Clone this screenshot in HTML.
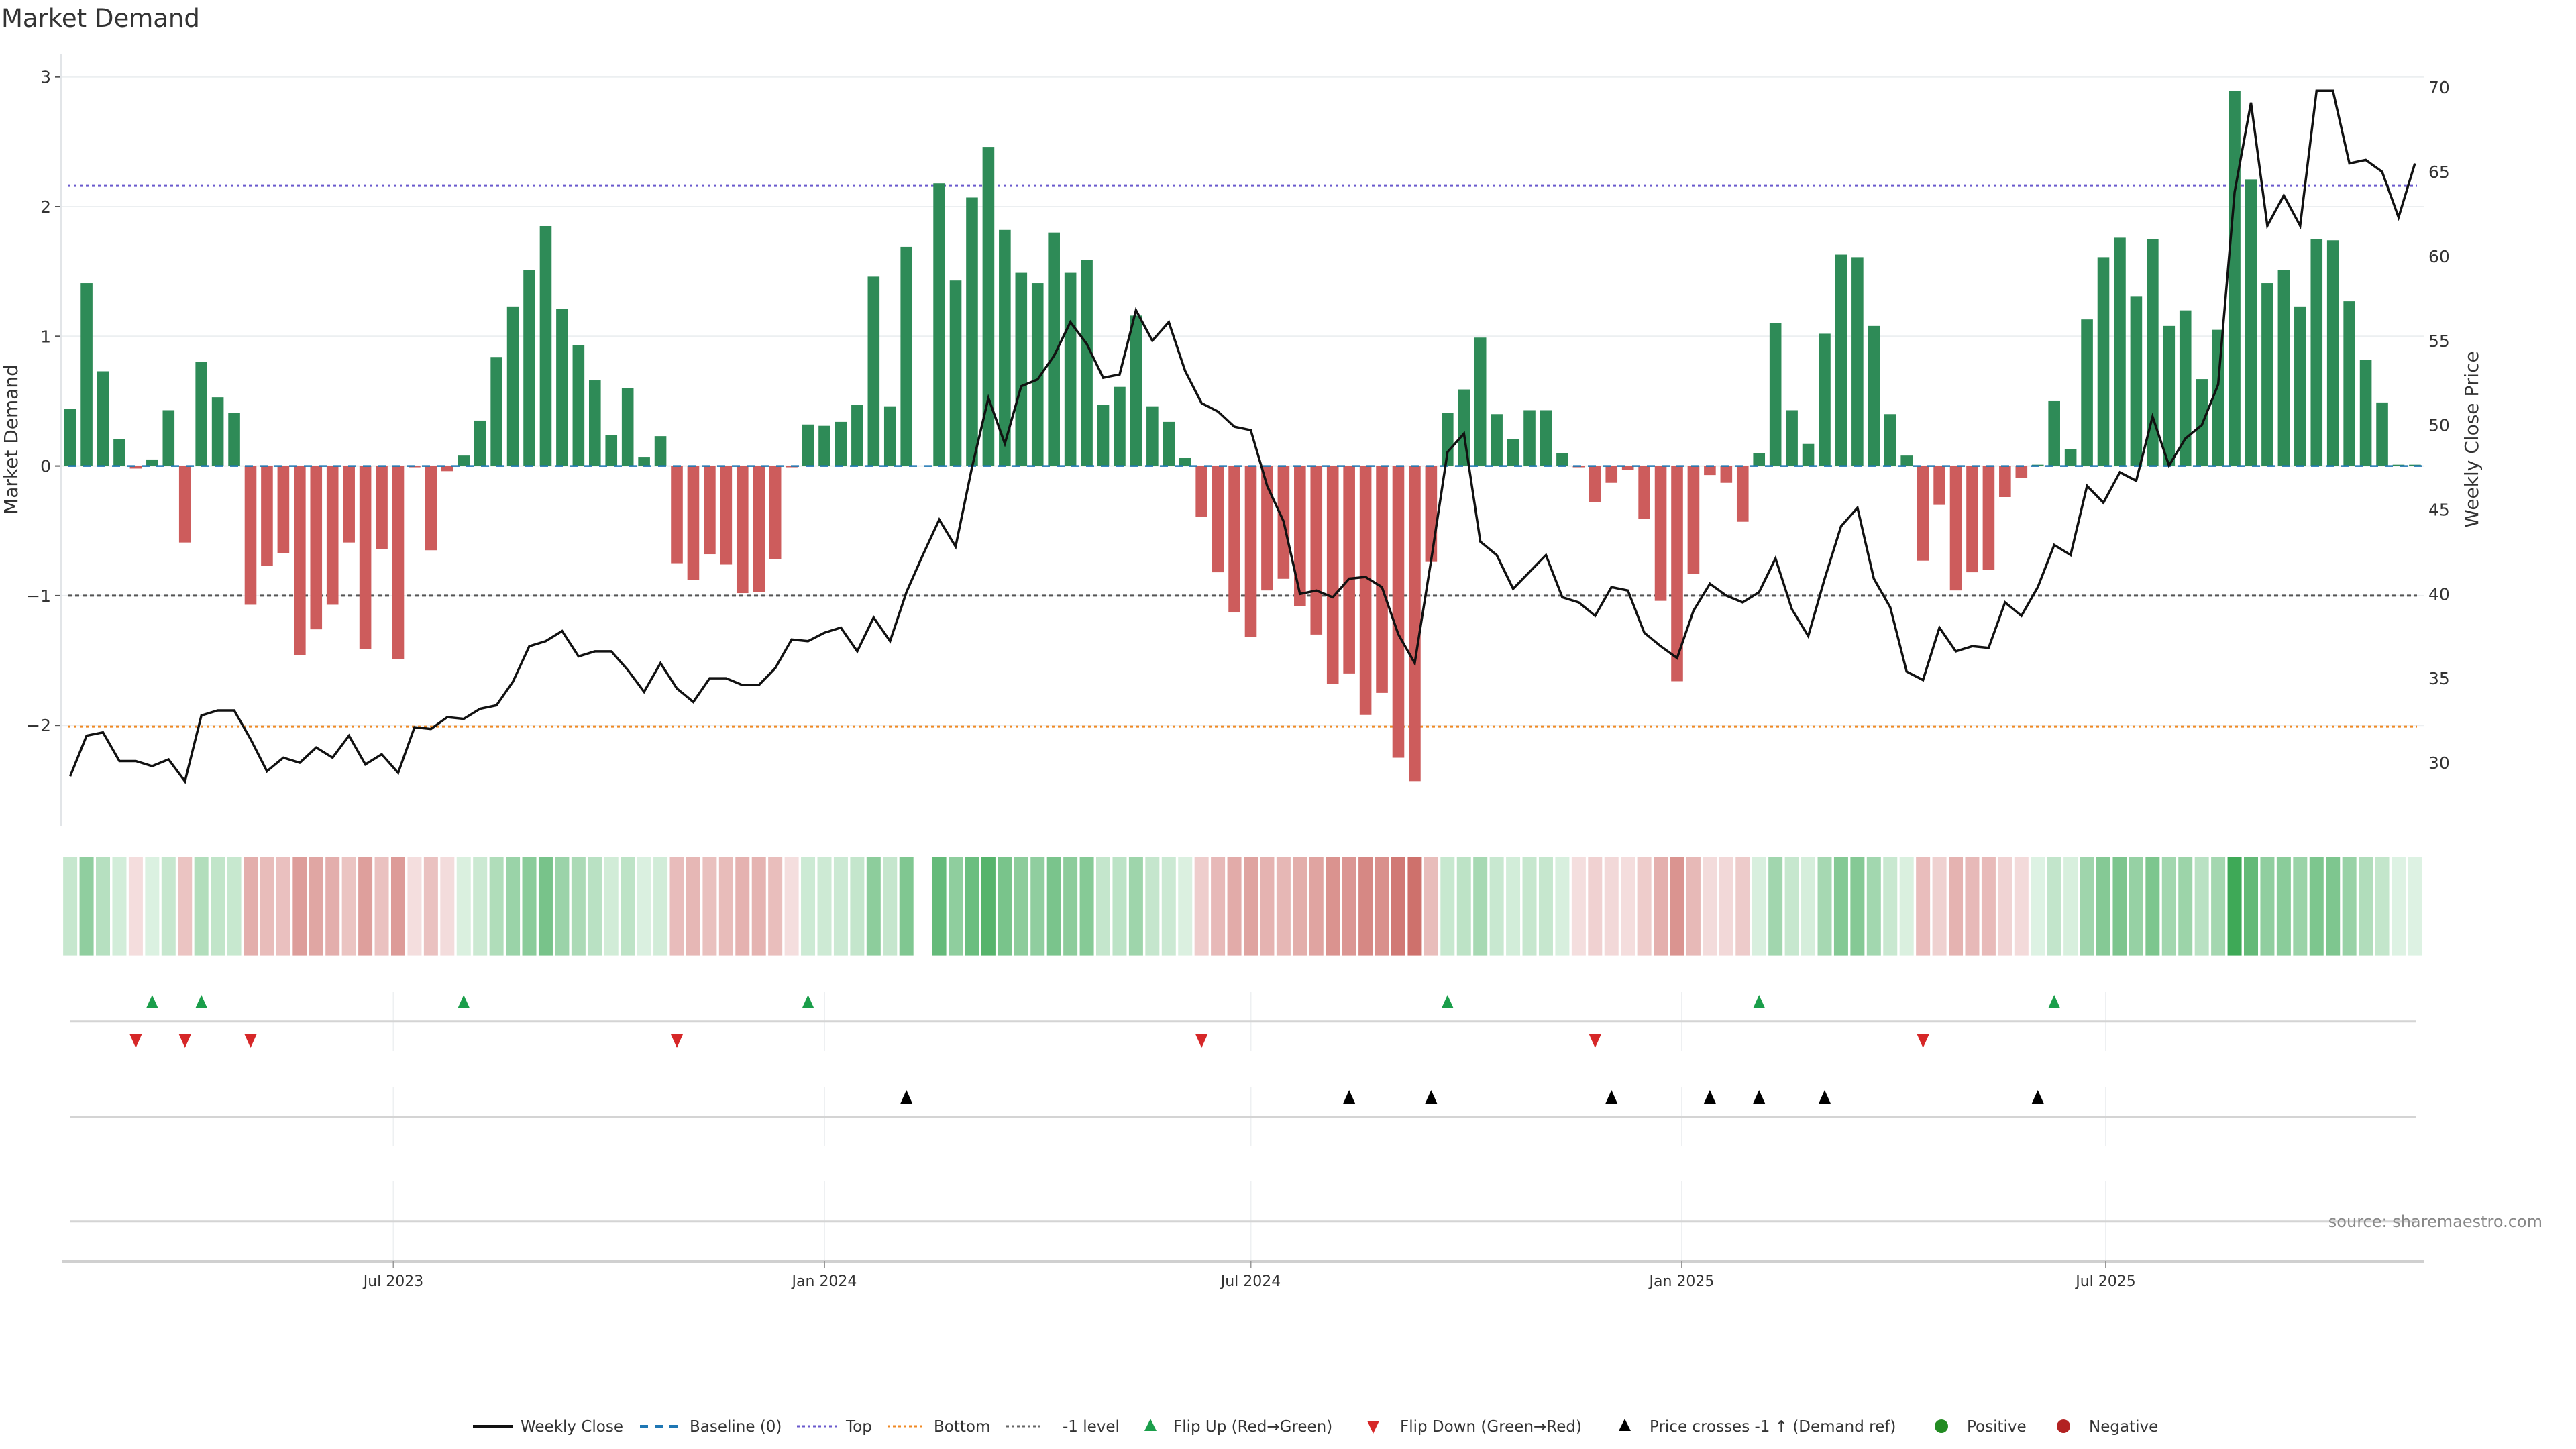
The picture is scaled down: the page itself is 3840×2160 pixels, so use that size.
<!DOCTYPE html>
<html><head><meta charset="utf-8"><style>
html,body{margin:0;padding:0;background:#fff;}
svg{display:block;font-family:"DejaVu Sans","Liberation Sans",sans-serif;}
</style></head><body>
<svg id="chart" width="3840" height="2160" viewBox="0 0 3840 2160" xmlns="http://www.w3.org/2000/svg">
<text x="2" y="40" font-size="37" fill="#333">Market Demand</text>
<g id="main"></g>
<g id="strip"></g>
<g id="events"></g>
<g id="xaxis"></g>
<text x="3790" y="1829" font-size="24" fill="#888" text-anchor="end">source: sharemaestro.com</text>
<g id="legend"></g>
</svg>
<script>
const demand = [0.44,1.41,0.73,0.21,-0.02,0.05,0.43,-0.59,0.80,0.53,0.41,-1.07,-0.77,-0.67,-1.46,-1.26,-1.07,-0.59,-1.41,-0.64,
-1.49,-0.01,-0.65,-0.04,0.08,0.35,0.84,1.23,1.51,1.85,1.21,0.93,0.66,0.24,0.60,0.07,0.23,-0.75,-0.88,-0.68,
-0.76,-0.98,-0.97,-0.72,-0.01,0.32,0.31,0.34,0.47,1.46,0.46,1.69,null,2.18,1.43,2.07,2.46,1.82,1.49,1.41,
1.80,1.49,1.59,0.47,0.61,1.16,0.46,0.34,0.06,-0.39,-0.82,-1.13,-1.32,-0.96,-0.87,-1.08,-1.30,-1.68,-1.60,-1.92,
-1.75,-2.25,-2.43,-0.74,0.41,0.59,0.99,0.40,0.21,0.43,0.43,0.10,-0.01,-0.28,-0.13,-0.03,-0.41,-1.04,-1.66,-0.83,
-0.07,-0.13,-0.43,0.10,1.10,0.43,0.17,1.02,1.63,1.61,1.08,0.40,0.08,-0.73,-0.30,-0.96,-0.82,-0.80,-0.24,-0.09,
0.01,0.50,0.13,1.13,1.61,1.76,1.31,1.75,1.08,1.20,0.67,1.05,2.89,2.21,1.41,1.51,1.23,1.75,1.74,1.27,
0.82,0.49,0.01,0.01];
const closes = [29.2,31.6,31.8,30.1,30.1,29.8,30.2,28.9,32.8,33.1,33.1,31.4,29.5,30.3,30.0,30.9,30.3,31.6,29.9,30.5,
29.4,32.1,32.0,32.7,32.6,33.2,33.4,34.8,36.9,37.2,37.8,36.3,36.6,36.6,35.5,34.2,35.9,34.4,33.6,35.0,
35.0,34.6,34.6,35.6,37.3,37.2,37.7,38.0,36.6,38.6,37.2,40.1,42.3,44.4,42.8,47.5,51.6,48.9,52.3,52.7,
54.1,56.1,54.8,52.8,53.0,56.8,55.0,56.1,53.2,51.3,50.8,49.9,49.7,46.4,44.3,40.0,40.2,39.8,40.9,41.0,
40.4,37.6,35.9,42.0,48.4,49.5,43.1,42.3,40.3,41.3,42.3,39.8,39.5,38.7,40.4,40.2,37.7,36.9,36.2,39.0,
40.6,39.9,39.5,40.1,42.1,39.1,37.5,40.9,44.0,45.1,40.9,39.2,35.4,34.9,38.0,36.6,36.9,36.8,39.5,38.7,
40.4,42.9,42.3,46.4,45.4,47.2,46.7,50.5,47.6,49.2,50.0,52.4,63.8,69.1,61.8,63.6,61.8,69.8,69.8,65.5,
65.7,65.0,62.3,65.5];
const flipUpIdx = [5,8,24,45,84,103,121];
const flipDownIdx = [4,7,11,37,69,93,113];
const priceCrossIdx = [51,78,83,94,100,103,107,120];
const leftTicks = [3,2,1,0,-1,-2];
const rightTicks = [30,35,40,45,50,55,60,65,70];
const levelTop = 2.16, levelBottom = -2.01, levelMinus1 = -1;
const dateTicks = ["2023-07-01","2024-01-01","2024-07-01","2025-01-01","2025-07-01"];
const dateTickLabels = ["Jul 2023","Jan 2024","Jul 2024","Jan 2025","Jul 2025"];
const startDate = "2023-02-13";

const NS="http://www.w3.org/2000/svg";
function mk(tag,attrs,parent){const e=document.createElementNS(NS,tag);for(const k in attrs)e.setAttribute(k,attrs[k]);parent.appendChild(e);return e;}
const DAY=86400000, ref=Date.parse("2023-07-01");
function xDate(s){return 586.5+(Date.parse(s)-ref)/DAY*3.4918;}
const x0=xDate(startDate);
function xIdx(i){return x0+i*7*3.4918;}
function yD(v){return 694.6-v*193.3;}
function yP(p){return 1137-(p-30)*25.17;}
const PL=91, PR=3613;

const main=document.getElementById('main');
leftTicks.forEach(t=>{
  const g=mk('line',{x1:PL,x2:PR,y1:yD(t),y2:yD(t),stroke:'#eceff1','stroke-width':2},main);
  
  
  const tm=mk('line',{x1:82,x2:90,y1:yD(t),y2:yD(t),stroke:'#555','stroke-width':2},main);
  
  
  const tl=mk('text',{x:76,y:yD(t)+9,'font-size':25,fill:'#333','text-anchor':'end'},main);
  tl.textContent=t<0?'\u2212'+Math.abs(t):String(t);
  
  
});
const ax=mk('line',{x1:PL,x2:PL,y1:80,y2:1232,stroke:'#e2e5e8','stroke-width':2},main);


rightTicks.forEach(t=>{
  const tl=mk('text',{x:3620,y:yP(t)+9,'font-size':25,fill:'#333'},main);
  tl.textContent=String(t);
  
  
});
const yt=mk('text',{x:0,y:0,'font-size':28,fill:'#333','text-anchor':'middle',transform:'translate(26,655) rotate(-90)'},main);
yt.textContent='Market Demand';


const yt2=mk('text',{x:0,y:0,'font-size':28,fill:'#333','text-anchor':'middle',transform:'translate(3694,655) rotate(-90)'},main);
yt2.textContent='Weekly Close Price';


const lt=mk('line',{x1:PL+10,x2:3603,y1:yD(levelTop),y2:yD(levelTop),stroke:'#6a5acd','stroke-width':3,'stroke-dasharray':'4 5'},main);


const lb=mk('line',{x1:PL+10,x2:3603,y1:yD(levelBottom),y2:yD(levelBottom),stroke:'#f08a24','stroke-width':3,'stroke-dasharray':'4 5'},main);


const lm=mk('line',{x1:PL+10,x2:3603,y1:yD(levelMinus1),y2:yD(levelMinus1),stroke:'#555','stroke-width':3,'stroke-dasharray':'6 5'},main);


demand.forEach((v,i)=>{
  if(v===null)return;
  const y=yD(Math.max(v,0)), h=Math.max(Math.abs(v)*193.3,1);
  const b=mk('rect',{x:xIdx(i)-8.8,y:y,width:17.6,height:h,fill:v>=0?'#2e8b57':'#cd5c5c'},main);
  
  
});
const bl=mk('line',{x1:PL+10,x2:PR,y1:yD(0),y2:yD(0),stroke:'#1f77b4','stroke-width':2.5,'stroke-dasharray':'12 10'},main);


const pts=closes.map((p,i)=>xIdx(i).toFixed(1)+','+yP(p).toFixed(1)).join(' ');
const pl=mk('polyline',{points:pts,fill:'none',stroke:'#111','stroke-width':3.5,'stroke-linejoin':'miter'},main);



const strip=document.getElementById('strip');
function mix(a,b,t){return 'rgb('+a.map((c,j)=>Math.round(c+(b[j]-c)*t)).join(',')+')';}
demand.forEach((v,i)=>{
  if(v===null)return;
  const col=v>=0?mix([222,242,227],[56,166,82],Math.min(v/3,1)):mix([244,222,222],[205,110,105],Math.min(-v/2.5,1));
  const c=mk('rect',{x:xIdx(i)-10.5,y:1278,width:21,height:146.6,fill:col},strip);
  
  
});

const ev=document.getElementById('events');
const panels=[[1479,1566],[1621,1708],[1760,1880]];
panels.forEach(p=>{
  dateTicks.forEach(d=>{
    const g=mk('line',{x1:xDate(d),x2:xDate(d),y1:p[0],y2:p[1],stroke:'#eef0f2','stroke-width':2},ev);
    
    
  });
});
[1522.8,1664.7,1820.8].forEach(y=>{
  const h=mk('line',{x1:104,x2:3601,y1:y,y2:y,stroke:'#d4d4d4','stroke-width':3},ev);
  
  
});
function tri(x,y,up,fill){
  const p=up?`${x},${y-11} ${x-9},${y+9} ${x+9},${y+9}`:`${x-9},${y-9} ${x+9},${y-9} ${x},${y+11}`;
  return mk('polygon',{points:p,fill:fill},ev);
}
flipUpIdx.forEach(i=>{const t=tri(xIdx(i),1494,true,'#1a9e4a');
  
  });
flipDownIdx.forEach(i=>{const t=tri(xIdx(i),1551,false,'#d62728');
  
  });
priceCrossIdx.forEach(i=>{const t=tri(xIdx(i),1636,true,'#000');
  
  });

const xa=document.getElementById('xaxis');
const xl=mk('line',{x1:92,x2:PR,y1:1880.5,y2:1880.5,stroke:'#d0d0d0','stroke-width':3},xa);


dateTicks.forEach((d,j)=>{
  const x=xDate(d);
  const t=mk('line',{x1:x,x2:x,y1:1880,y2:1890,stroke:'#999','stroke-width':2},xa);
  
  
  const l=mk('text',{x:x,y:1917,'font-size':22,fill:'#333','text-anchor':'middle'},xa);
  l.textContent=dateTickLabels[j];
  
  
});

const lg=document.getElementById('legend');
const LY=2126;
function ltext(x,s){const t=mk('text',{x:x,y:LY+8,'font-size':23,fill:'#333'},lg);t.textContent=s;
  
  return t;}
function lline(x1,x2,stroke,w,dash){const l=mk('line',{x1:x1,x2:x2,y1:LY,y2:LY,stroke:stroke,'stroke-width':w,'stroke-dasharray':dash},lg);
  
  }
lline(705,764,'#111',4,'none');ltext(776,'Weekly Close');
lline(954,1017,'#1f77b4',4,'12 10');ltext(1028,'Baseline (0)');
lline(1188,1249,'#6a5acd',3,'4 4');ltext(1261,'Top');
lline(1323,1374,'#f08a24',3,'4 4');ltext(1392,'Bottom');
lline(1500,1550,'#666',3,'4 4');ltext(1584,'-1 level');
let m=mk('polygon',{points:`1715,${LY-11} 1706,${LY+7} 1724,${LY+7}`,fill:'#1a9e4a'},lg);


ltext(1749,'Flip Up (Red\u2192Green)');
m=mk('polygon',{points:`2038,${LY-8} 2056,${LY-8} 2047,${LY+11}`,fill:'#d62728'},lg);


ltext(2087,'Flip Down (Green\u2192Red)');
m=mk('polygon',{points:`2422,${LY-11} 2413,${LY+7} 2431,${LY+7}`,fill:'#000'},lg);


ltext(2459,'Price crosses -1 \u2191 (Demand ref)');
m=mk('circle',{cx:2894,cy:LY,r:10,fill:'#228b22'},lg);


ltext(2932,'Positive');
m=mk('circle',{cx:3076,cy:LY,r:10,fill:'#b22222'},lg);


ltext(3114,'Negative');
</script>
</body></html>
